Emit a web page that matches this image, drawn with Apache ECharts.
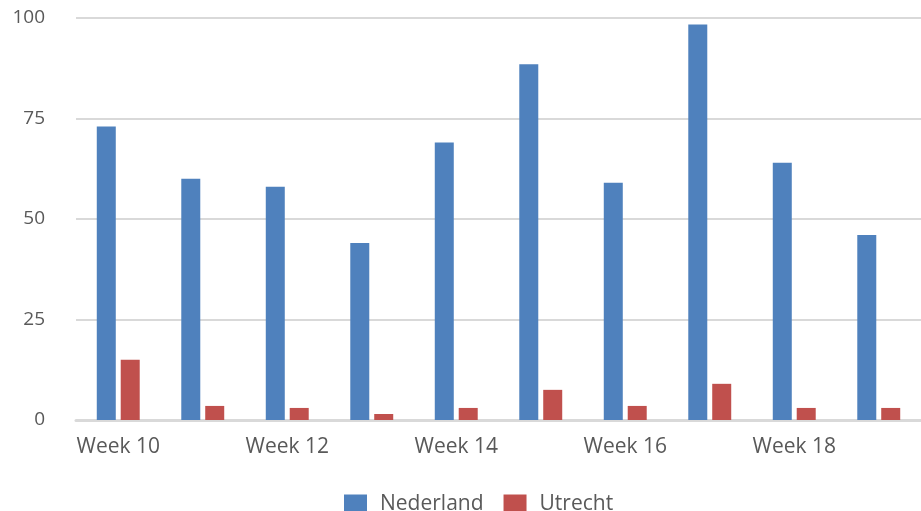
<!DOCTYPE html>
<html>
<head>
<meta charset="utf-8">
<script src="https://cdn.jsdelivr.net/npm/echarts@6/dist/echarts.min.js"></script>
<style>
  html, body { margin: 0; padding: 0; background: #fff; }
  #chart { width: 921px; height: 511px; }
</style>
</head>
<body>
<div id="chart"></div>
<script>
const weeks = ['Week 10', 'Week 11', 'Week 12', 'Week 13', 'Week 14', 'Week 15', 'Week 16', 'Week 17', 'Week 18', 'Week 19']
const nederland = [73, 60, 58, 44, 69, 88.5, 59, 98.4, 64, 46]
const utrecht = [15, 3.5, 3, 1.5, 3, 7.5, 3.5, 9, 3, 3]
const yTicks = [0, 25, 50, 75, 100]

const font = '"Open Sans", sans-serif'
const myChart = echarts.init(document.getElementById('chart'))
myChart.setOption({
  animation: false,
  textStyle: { fontFamily: font },
  grid: {
    top: 18,
    left: 76,
    right: 0,
    bottom: 91
  },
  legend: {
    top: 489,
    left: 339,
    itemWidth: 23,
    itemHeight: 20,
    itemGap: 20,
    icon: 'rect',
    textStyle: { color: '#595959', fontSize: 21, fontFamily: font, padding: [0, 0, 0, 8] },
    data: ['Nederland', 'Utrecht']
  },
  xAxis: {
    type: 'category',
    data: weeks,
    axisTick: { show: false },
    axisLine: { lineStyle: { color: '#d9d9d9', width: 3 } },
    axisLabel: {
      interval: 1,
      color: '#595959',
      fontSize: 21,
      margin: 17,
      fontFamily: font
    }
  },
  yAxis: {
    type: 'value',
    min: yTicks[0],
    max: yTicks[yTicks.length - 1],
    interval: 25,
    axisLine: { show: false },
    axisTick: { show: false },
    axisLabel: {
      color: '#595959',
      fontSize: 19,
      margin: 31,
      fontFamily: font
    },
    splitLine: { lineStyle: { color: '#d9d9d9', width: 2 } }
  },
  series: [{
    name: 'Nederland',
    type: 'bar',
    data: nederland,
    barWidth: 19,
    barGap: '26%',
    itemStyle: { color: '#4f81bd' }
  }, {
    name: 'Utrecht',
    type: 'bar',
    data: utrecht,
    barWidth: 19,
    itemStyle: { color: '#c0504d' }
  }]
})
</script>
</body>
</html>
